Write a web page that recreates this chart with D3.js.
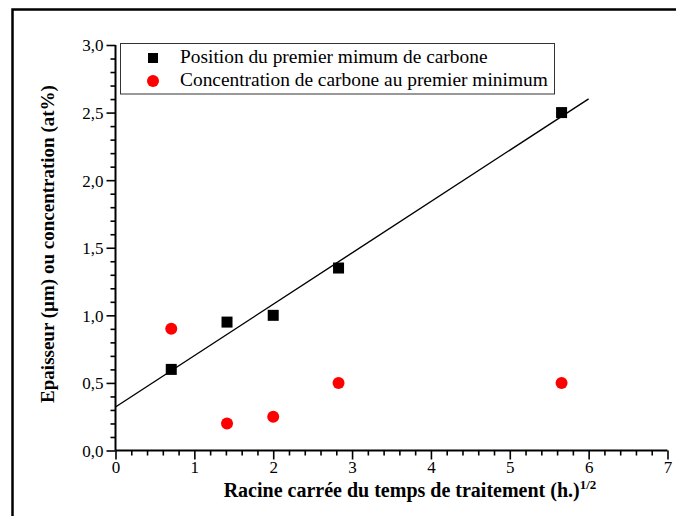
<!DOCTYPE html>
<html>
<head>
<meta charset="utf-8">
<script src="https://cdn.jsdelivr.net/npm/d3@7/dist/d3.min.js"></script>
<style>
  html, body { margin: 0; padding: 0; background: #fff; }
  svg { display: block; }
</style>
</head>
<body>
<svg id="chart" width="676" height="516"></svg>
<script>
// Square root of treatment time (h^1/2)
const sqrtTime = [Math.SQRT1_2, Math.SQRT2, 2, 2 * Math.SQRT2, 4 * Math.SQRT2];
// Depth of the first carbon minimum (µm)
const positionMin = [0.6, 0.95, 1.0, 1.35, 2.5];
// Carbon concentration at the first minimum (at%)
const concentrationMin = [0.9, 0.2, 0.25, 0.5, 0.5];

const xTickValues = [0, 1, 2, 3, 4, 5, 6, 7];
const yTickValues = [0, 0.5, 1.0, 1.5, 2.0, 2.5, 3.0];
const legendLabels = [
  "Position du premier mimum de carbone",
  "Concentration de carbone au premier minimum"
];

const FONT = "'Liberation Serif', 'Times New Roman', serif";

const svg = d3.select("#chart");

// Outer frame (top and left edges)
svg.append("path")
  .attr("d", "M12.5,516 L12.5,9.5 L676,9.5")
  .attr("fill", "none").attr("stroke", "#000").attr("stroke-width", 2.5);

const x = d3.scaleLinear().domain([0, 7]).range([115.5, 667.5]);
const y = d3.scaleLinear().domain([0, 3]).range([450.5, 45]);

const fmt = d => d3.format(".1f")(d).replace(".", ",");
const isMajorY = d => yTickValues.some(t => Math.abs(t - d) < 1e-6);
const isMajorX = d => xTickValues.some(t => Math.abs(t - d) < 1e-6);

// Y axis: minor ticks every 0.1, labelled majors every 0.5
const yAxis = svg.append("g").attr("transform", `translate(${x(0)},0)`);
yAxis.call(d3.axisLeft(y).tickValues(d3.range(0, 3.0001, 0.1)).tickSize(5).tickFormat(""));
yAxis.selectAll(".tick").filter(isMajorY).select("line").attr("x2", -9);
yAxis.selectAll(".tick").filter(isMajorY)
  .append("text")
  .attr("x", -12).attr("dy", "0.35em")
  .attr("text-anchor", "end")
  .attr("fill", "#000")
  .style("font-family", FONT).style("font-size", "17px")
  .text(d => fmt(d));
yAxis.select(".domain").attr("stroke-width", 2).attr("d", `M0,${y(0)}V${y(3)}`);
yAxis.selectAll(".tick line").attr("stroke-width", 1.6);

// X axis: minor ticks every 0.2, labelled integers
const xAxis = svg.append("g").attr("transform", `translate(0,${y(0)})`);
xAxis.call(d3.axisBottom(x).tickValues(d3.range(0, 7.0001, 0.2)).tickSize(5).tickFormat(""));
xAxis.selectAll(".tick").filter(isMajorX).select("line").attr("y2", 9);
xAxis.selectAll(".tick").filter(isMajorX)
  .append("text")
  .attr("y", 22)
  .attr("text-anchor", "middle")
  .attr("fill", "#000")
  .style("font-family", FONT).style("font-size", "17px")
  .text(d => d3.format("d")(d));
xAxis.select(".domain").attr("stroke-width", 2).attr("d", `M${x(0)},0H${x(7)}`);
xAxis.selectAll(".tick line").attr("stroke-width", 1.6);

// Least-squares fit of the minimum position
const mx = d3.mean(sqrtTime), my = d3.mean(positionMin);
const sxy = d3.sum(sqrtTime, (v, i) => (v - mx) * (positionMin[i] - my));
const sxx = d3.sum(sqrtTime, v => (v - mx) * (v - mx));
const slope = sxy / sxx, intercept = my - slope * mx;
const fitX = [0, 6];
svg.append("path")
  .datum(fitX.map(v => [v, intercept + slope * v]))
  .attr("d", d3.line().x(d => x(d[0])).y(d => y(d[1])))
  .attr("fill", "none").attr("stroke", "#000").attr("stroke-width", 1.4);

// Markers
const sq = 11;
svg.append("g").selectAll("rect")
  .data(sqrtTime.map((v, i) => [v, positionMin[i]]))
  .join("rect")
  .attr("x", d => x(d[0]) - sq / 2).attr("y", d => y(d[1]) - sq / 2)
  .attr("width", sq).attr("height", sq).attr("fill", "#000");

svg.append("g").selectAll("circle")
  .data(sqrtTime.map((v, i) => [v, concentrationMin[i]]))
  .join("circle")
  .attr("cx", d => x(d[0])).attr("cy", d => y(d[1]))
  .attr("r", 6).attr("fill", "#ff0000");

// Legend
const lg = svg.append("g");
lg.append("rect").attr("x", 120.5).attr("y", 43.5).attr("width", 434).attr("height", 50.5)
  .attr("fill", "#fff").attr("stroke", "#333").attr("stroke-width", 1);
lg.append("rect").attr("x", 148).attr("y", 53).attr("width", 10).attr("height", 10).attr("fill", "#000");
lg.append("circle").attr("cx", 153).attr("cy", 81).attr("r", 6).attr("fill", "#ff0000");
lg.selectAll("text.lbl").data(legendLabels).join("text")
  .attr("class", "lbl")
  .attr("x", 180).attr("y", (d, i) => 63 + i * 23)
  .attr("fill", "#000")
  .style("font-family", FONT).style("font-size", "19.4px")
  .text(d => d);

// Axis titles
const xt = svg.append("text")
  .attr("x", 410).attr("y", 497)
  .attr("text-anchor", "middle")
  .attr("fill", "#000")
  .style("font-family", FONT).style("font-size", "20px").style("font-weight", "bold");
xt.append("tspan").text("Racine carrée du temps de traitement (h.)");
xt.append("tspan").attr("dy", -8).style("font-size", "13px").style("font-weight", "bold").text("1/2");

svg.append("text")
  .attr("transform", "translate(54,244) rotate(-90)")
  .attr("text-anchor", "middle")
  .attr("fill", "#000")
  .style("font-family", FONT).style("font-size", "19px").style("font-weight", "bold")
  .text("Epaisseur (µm) ou concentration (at%)");
</script>
</body>
</html>
